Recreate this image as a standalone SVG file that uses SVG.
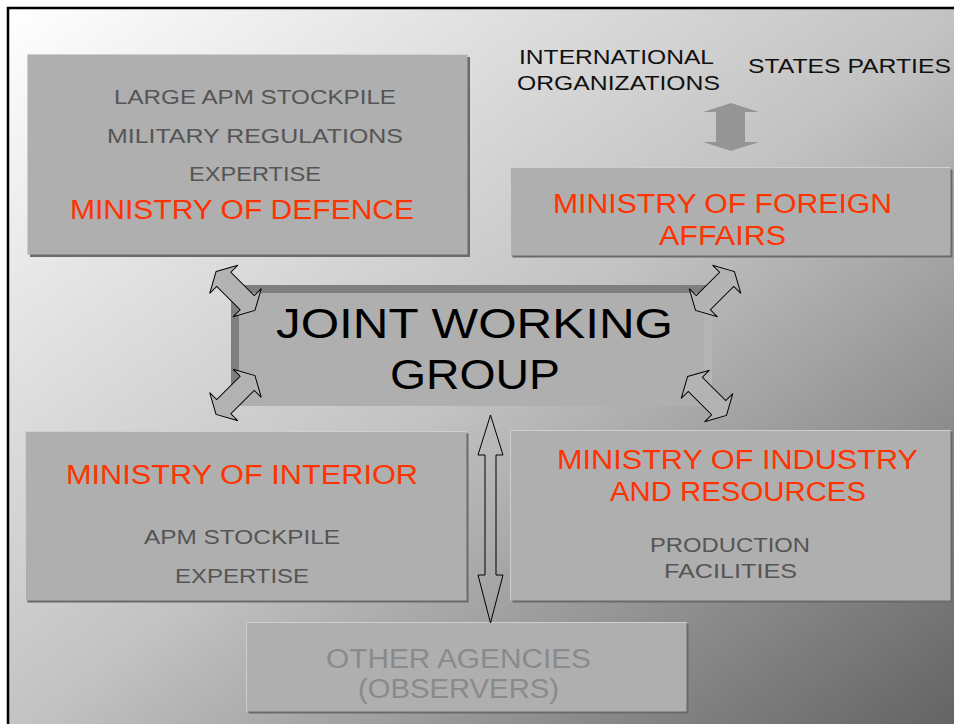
<svg xmlns="http://www.w3.org/2000/svg" width="954" height="724" viewBox="0 0 954 724">
  <defs>
    <linearGradient id="bg" x1="0" y1="0" x2="1" y2="1">
      <stop offset="0" stop-color="#ffffff"/>
      <stop offset="0.5" stop-color="#c2c2c2"/>
      <stop offset="1" stop-color="#606060"/>
    </linearGradient>
    <filter id="soft" x="-10%" y="-10%" width="120%" height="120%">
      <feGaussianBlur stdDeviation="0.7"/>
    </filter>
    <path id="dbl" d="M -27.5 0 L -16.5 -20 L -16.5 -10 L 16.5 -10 L 16.5 -20 L 27.5 0 L 16.5 20 L 16.5 10 L -16.5 10 L -16.5 20 Z"/>
  </defs>
  <style>
    text { font-family: "Liberation Sans", Arial, sans-serif; }
    .box { fill: #afafaf; }
    .shadow { fill: #6a6a6a; }
    .hl { fill: none; stroke: #cfcfcf; stroke-width: 1; }
    .gray { fill: #555555; font-size: 21px; }
    .red { fill: #ff3300; font-size: 27px; }
    .black { fill: #111111; font-size: 21px; }
    .big { fill: #000000; font-size: 43px; }
    .obs { fill: #8a8a8a; font-size: 27px; }
    .darr { fill: #b3b3b3; stroke: #000000; stroke-width: 1; stroke-linejoin: miter; }
  </style>

  <rect x="8" y="8" width="962" height="732" fill="url(#bg)" stroke="#000000" stroke-width="2.5"/>

  <g id="defence">
    <rect class="shadow" x="30" y="57" width="440" height="200"/>
    <rect class="box" x="27.5" y="54.5" width="440" height="200"/>
    <polyline class="hl" points="27.5,254.5 27.5,54.5 467.5,54.5"/>
    <text class="gray" x="114" y="104" textLength="282" lengthAdjust="spacingAndGlyphs">LARGE APM STOCKPILE</text>
    <text class="gray" x="107" y="143" textLength="296" lengthAdjust="spacingAndGlyphs">MILITARY REGULATIONS</text>
    <text class="gray" x="189" y="181" textLength="132" lengthAdjust="spacingAndGlyphs">EXPERTISE</text>
    <text class="red" x="70" y="219" textLength="344" lengthAdjust="spacingAndGlyphs">MINISTRY OF DEFENCE</text>
  </g>

  <g id="international">
    <text class="black" x="519" y="64" textLength="195" lengthAdjust="spacingAndGlyphs">INTERNATIONAL</text>
    <text class="black" x="517" y="90" textLength="203" lengthAdjust="spacingAndGlyphs">ORGANIZATIONS</text>
  </g>

  <g id="states">
    <text class="black" x="748" y="73" textLength="203" lengthAdjust="spacingAndGlyphs">STATES PARTIES</text>
  </g>

  <g id="foreign">
    <rect class="shadow" x="512.5" y="169.5" width="440" height="88"/>
    <rect class="box" x="510.5" y="167.5" width="440" height="88"/>
    <polyline class="hl" points="510.5,255.5 510.5,167.5 950.5,167.5"/>
    <text class="red" x="553" y="213" textLength="339" lengthAdjust="spacingAndGlyphs">MINISTRY OF FOREIGN</text>
    <text class="red" x="659" y="245" textLength="127" lengthAdjust="spacingAndGlyphs">AFFAIRS</text>
  </g>

  <g id="jwg">
    <rect x="231" y="285" width="481" height="121" fill="#b4b4b4"/>
    <polygon points="231,285 712,285 704,293 239,293 239,400 231,406" fill="#7f7f7f"/>
    <rect x="239" y="293" width="465" height="113" fill="#afafaf"/>
    <text class="big" x="276" y="338" textLength="397" lengthAdjust="spacingAndGlyphs">JOINT WORKING</text>
    <text class="big" x="390" y="389" textLength="170" lengthAdjust="spacingAndGlyphs">GROUP</text>
  </g>

  <g id="interior">
    <rect class="shadow" x="27.5" y="433.5" width="441" height="169"/>
    <rect class="box" x="25.5" y="431.5" width="441" height="169"/>
    <polyline class="hl" points="25.5,600.5 25.5,431.5 466.5,431.5"/>
    <text class="red" x="66" y="484" textLength="352" lengthAdjust="spacingAndGlyphs">MINISTRY OF INTERIOR</text>
    <text class="gray" x="144" y="544" textLength="196" lengthAdjust="spacingAndGlyphs">APM STOCKPILE</text>
    <text class="gray" x="175" y="583" textLength="134" lengthAdjust="spacingAndGlyphs">EXPERTISE</text>
  </g>

  <g id="industry">
    <rect class="shadow" x="512.5" y="432.5" width="440" height="170"/>
    <rect class="box" x="510.5" y="430.5" width="440" height="170"/>
    <polyline class="hl" points="510.5,600.5 510.5,430.5 950.5,430.5"/>
    <text class="red" x="557" y="469" textLength="361" lengthAdjust="spacingAndGlyphs">MINISTRY OF INDUSTRY</text>
    <text class="red" x="610" y="501" textLength="256" lengthAdjust="spacingAndGlyphs">AND RESOURCES</text>
    <text class="gray" x="650" y="552" textLength="160" lengthAdjust="spacingAndGlyphs">PRODUCTION</text>
    <text class="gray" x="664" y="578" textLength="133" lengthAdjust="spacingAndGlyphs">FACILITIES</text>
  </g>

  <g id="other">
    <rect class="shadow" x="248.5" y="624.5" width="440" height="89"/>
    <rect class="box" x="246.5" y="622.5" width="440" height="89"/>
    <polyline class="hl" points="246.5,711.5 246.5,622.5 686.5,622.5"/>
    <text class="obs" x="326" y="668" textLength="265" lengthAdjust="spacingAndGlyphs">OTHER AGENCIES</text>
    <text class="obs" x="358" y="698" textLength="201" lengthAdjust="spacingAndGlyphs">(OBSERVERS)</text>
  </g>

  <g id="connectors">
    <polygon points="731,103 759,112 745,112 745,142 759,142 731,151 703,142 716,142 716,112 703,112" fill="#959595" filter="url(#soft)"/>
    <use href="#dbl" class="darr" transform="translate(235.5,291) rotate(45)"/>
    <use href="#dbl" class="darr" transform="translate(715,291) rotate(-45)"/>
    <use href="#dbl" class="darr" transform="translate(235.5,395) rotate(-45)"/>
    <use href="#dbl" class="darr" transform="translate(707,396) rotate(45)"/>
    <polygon points="490.5,415 503,455 496,455 496,575 503,575 490.5,623 478,575 485,575 485,455 478,455" fill="none" stroke="#000000" stroke-width="1"/>
  </g>
</svg>
